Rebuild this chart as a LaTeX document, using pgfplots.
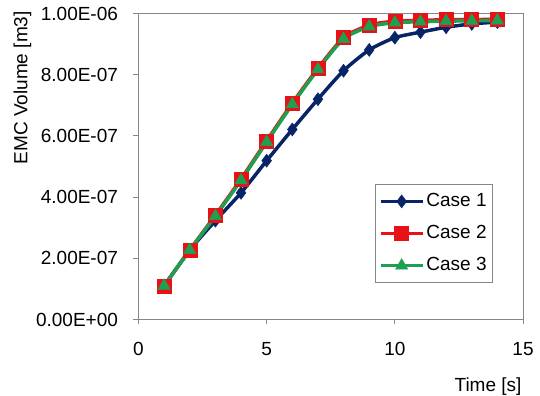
\documentclass[border=0pt]{standalone}
\usepackage{pgfplots}
\pgfplotsset{compat=1.18}
\usepackage{fontspec}
\setmainfont{Liberation Sans}
\definecolor{navy}{RGB}{8,36,104}
\definecolor{cred}{RGB}{232,18,22}
\definecolor{cgreen}{RGB}{30,160,82}
\definecolor{axgray}{RGB}{134,134,134}
\begin{document}
\fontsize{19}{22.8}\selectfont
\begin{tikzpicture}
\begin{axis}[
  scale only axis,
  width=384.5pt, height=306pt,
  xmin=0, xmax=15, ymin=0, ymax=1e-6,
  scaled y ticks=false, scaled x ticks=false,
  xtick={0,5,10,15}, xticklabels={0,5,10,15},
  ytick={0,2e-7,4e-7,6e-7,8e-7,1e-6},
  yticklabels={0.00E+00,2.00E-07,4.00E-07,6.00E-07,8.00E-07,1.00E-06},
  /pgf/number format/assume math mode=true,
  tick align=outside, major tick length=5pt,
  xtick pos=bottom, ytick pos=left,
  axis line style={axgray, line width=0.8pt},
  every tick/.style={axgray, line width=0.8pt},
  tick label style={font=\fontsize{19}{22.8}\selectfont, text=black},
  xticklabel style={yshift=-11pt},
  yticklabel style={xshift=-9pt},
  ylabel={EMC Volume [m3]},
  ylabel style={at={(axis description cs:-0.342,0.757)}, anchor=north, rotate=0, font=\fontsize{19}{22.8}\selectfont},
  xlabel={Time [s]},
  xlabel style={at={(axis description cs:1.013,-0.168)}, anchor=north east, font=\fontsize{19}{22.8}\selectfont},
  legend style={at={(axis description cs:0.922,0.443)}, anchor=north east, draw=axgray, line width=0.8pt, font=\fontsize{19}{22.8}\selectfont, row sep=12pt, inner xsep=4pt, inner ysep=7pt},
  legend cell align=left,
  legend image code/.code={\draw[mark repeat=2, mark phase=2] plot coordinates {(0pt,0pt) (21pt,0pt) (42pt,0pt)};},
  clip=false,
]
\addplot[navy, line width=3.5pt, smooth, tension=0.4, mark=diamond*, mark size=6.5pt, mark options={solid, line width=0.5pt, fill=navy}] coordinates {
(1,1.10e-7) (2,2.27e-7) (3,3.23e-7) (4,4.14e-7) (5,5.19e-7) (6,6.21e-7) (7,7.20e-7)
(8,8.13e-7) (9,8.81e-7) (10,9.21e-7) (11,9.39e-7) (12,9.55e-7) (13,9.66e-7) (14,9.72e-7)};
\addlegendentry{Case 1}
\addplot[cred, line width=3.5pt, smooth, tension=0.4, mark=square*, mark size=7pt, mark options={solid, line width=0.5pt, fill=cred}] coordinates {
(1,1.10e-7) (2,2.27e-7) (3,3.41e-7) (4,4.59e-7) (5,5.84e-7) (6,7.07e-7) (7,8.21e-7)
(8,9.21e-7) (9,9.62e-7) (10,9.75e-7) (11,9.77e-7) (12,9.80e-7) (13,9.80e-7) (14,9.81e-7)};
\addlegendentry{Case 2}
\addplot[cgreen, line width=3.5pt, smooth, tension=0.4, mark=triangle*, mark size=7pt, mark options={solid, line width=0.5pt, fill=cgreen}] coordinates {
(1,1.10e-7) (2,2.27e-7) (3,3.38e-7) (4,4.55e-7) (5,5.80e-7) (6,7.03e-7) (7,8.17e-7)
(8,9.17e-7) (9,9.57e-7) (10,9.70e-7) (11,9.73e-7) (12,9.75e-7) (13,9.76e-7) (14,9.77e-7)};
\addlegendentry{Case 3}
\coordinate (bbsw) at (axis description cs:-0.3602,-0.25);
\coordinate (bbne) at (axis description cs:1.0442,1.0441);
\end{axis}
\pgfresetboundingbox
\path (bbsw) rectangle (bbne);
\end{tikzpicture}
\end{document}
